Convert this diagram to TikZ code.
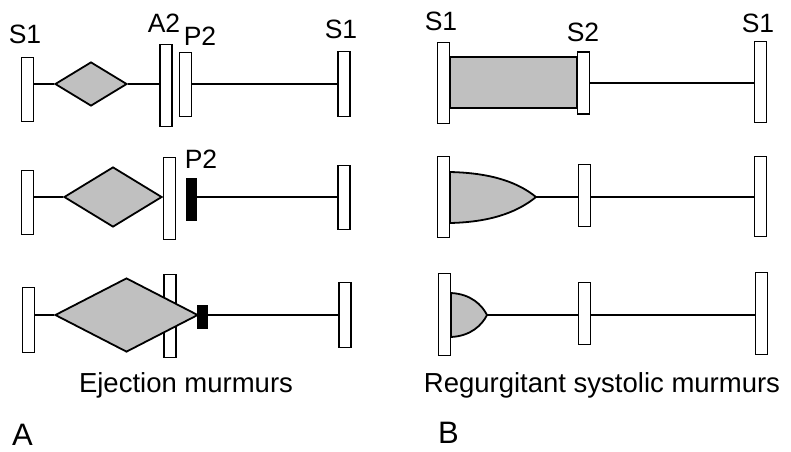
\documentclass[tikz,border=0pt]{standalone}
\usepackage{fontspec}
\setmainfont{Liberation Sans}
\usetikzlibrary{shapes.geometric}
\definecolor{murgray}{RGB}{192,192,192}
\begin{document}
\begin{tikzpicture}[x=1pt,y=-1pt,
  snd/.style={draw, fill=white, line width=1.9pt, inner sep=0pt, minimum width=12pt},
  blk/.style={draw, fill=black, line width=0.8pt, inner sep=0pt, minimum width=10pt},
  dia/.style={diamond, draw, fill=murgray, line width=1.8pt, inner sep=0pt},
  con/.style={line width=1.5pt},
  mur/.style={draw, fill=murgray, line width=1.8pt},
  lbl/.style={inner sep=0pt, anchor=base, font=\fontsize{26.5}{30}\selectfont},
  captext/.style={inner sep=0pt, anchor=base, font=\fontsize{27.5}{32}\selectfont},
  pan/.style={inner sep=0pt, anchor=base west, font=\fontsize{31}{36}\selectfont}]
\useasboundingbox (0,0) rectangle (791,451);

% ---------------- Panel A ----------------
% row 1
\node[snd, minimum height=64pt] (a1s1) at (27.5,89.5) {};
\node[snd, minimum height=82pt] (a1a2) at (166,85.5) {};
\node[snd, minimum height=64pt] (a1p2) at (185.5,84.5) {};
\node[snd, minimum height=65pt] (a1s1r) at (344,84) {};
\node[dia, minimum width=72pt, minimum height=44pt] (a1d) at (91,84) {};
\draw[con] (a1d.west -| a1s1.east) -- (a1d.west);
\draw[con] (a1d.east) -- (a1d.east -| a1a2.west);
\draw[con] (a1p2.east |- a1d.east) -- (a1d.east -| a1s1r.west);
\node[lbl] (la1) at (25,43) {S1};
\node[lbl] (la2) at (164,32) {A2};
\node[lbl] (la3) at (200,45) {P2};
\node[lbl] (la4) at (341,38) {S1};

% row 2
\node[snd, minimum height=64pt] (a2s1) at (27.5,202.5) {};
\node[snd, minimum height=82pt] (a2a2) at (169.5,198.5) {};
\node[blk, minimum height=42pt] (a2p2) at (191,199) {};
\node[snd, minimum height=64pt] (a2s1r) at (344,197.5) {};
\node[dia, minimum width=98pt, minimum height=60pt] (a2d) at (113,197) {};
\draw[con] (a2d.west -| a2s1.east) -- (a2d.west);
\draw[con] (a2p2.east |- a2d.east) -- (a2d.east -| a2s1r.west);
\node[lbl] (la5) at (201,168) {P2};

% row 3
\node[snd, minimum height=65pt] (a3s1) at (28.5,320) {};
\node[snd, minimum height=83pt] (a3a2) at (170,316) {};
\node[snd, minimum height=65pt] (a3s1r) at (345,315) {};
\node[dia, minimum width=143pt, minimum height=74pt] (a3d) at (126.5,315) {};
\node[blk, minimum height=23pt] (a3p2) at (202,316.5) {};
\draw[con] (a3d.west -| a3s1.east) -- (a3d.west);
\draw[con] (a3p2.east |- a3d.east) -- (a3d.east -| a3s1r.west);

\node[captext] (capa) at (186,392) {Ejection murmurs};
\node[pan] (pa) at (12,445) {A};

% ---------------- Panel B ----------------
% row 1
\node[mur, inner sep=0pt, minimum width=127pt, minimum height=51pt] (b1g) at (513.5,82.5) {};
\node[snd, minimum height=81pt] (b1s1) at (443.5,83) {};
\node[snd, minimum height=62pt] (b1s2) at (583.5,83) {};
\node[snd, minimum height=81pt] (b1s1r) at (760.5,82) {};
\draw[con] (b1s2.east) -- (b1s2.east -| b1s1r.west);
\node[lbl] (lb1) at (441,30) {S1};
\node[lbl] (lb2) at (583,41) {S2};
\node[lbl] (lb3) at (758,32) {S1};

% row 2
\node[snd, minimum height=81pt] (b2s1) at (443.5,197) {};
\node[snd, minimum height=62pt] (b2s2) at (584.5,195.5) {};
\node[snd, minimum height=80pt] (b2s1r) at (760.5,196.5) {};
\coordinate (b2tip) at (536,197);
\draw[mur] (450,172) .. controls (495,173) and (520,184) .. (b2tip)
  .. controls (520,210) and (495,222) .. (450,223) -- cycle;
\draw[con] (b2tip) -- (b2tip -| b2s2.west);
\draw[con] (b2s2.east |- b2tip) -- (b2tip -| b2s1r.west);

% row 3
\node[snd, minimum height=82pt] (b3s1) at (444.5,314.5) {};
\node[snd, minimum height=62pt] (b3s2) at (584.5,313.5) {};
\node[snd, minimum height=82pt] (b3s1r) at (761.5,313.5) {};
\coordinate (b3tip) at (487,315);
\draw[mur] (451,293) .. controls (471,294) and (482,305) .. (b3tip)
  .. controls (482,325) and (471,336) .. (451,337) -- cycle;
\draw[con] (b3tip) -- (b3tip -| b3s2.west);
\draw[con] (b3s2.east |- b3tip) -- (b3tip -| b3s1r.west);

\node[captext] (capb) at (602,392) {Regurgitant systolic murmurs};
\node[pan] (pb) at (438,443) {B};
\end{tikzpicture}
\end{document}
